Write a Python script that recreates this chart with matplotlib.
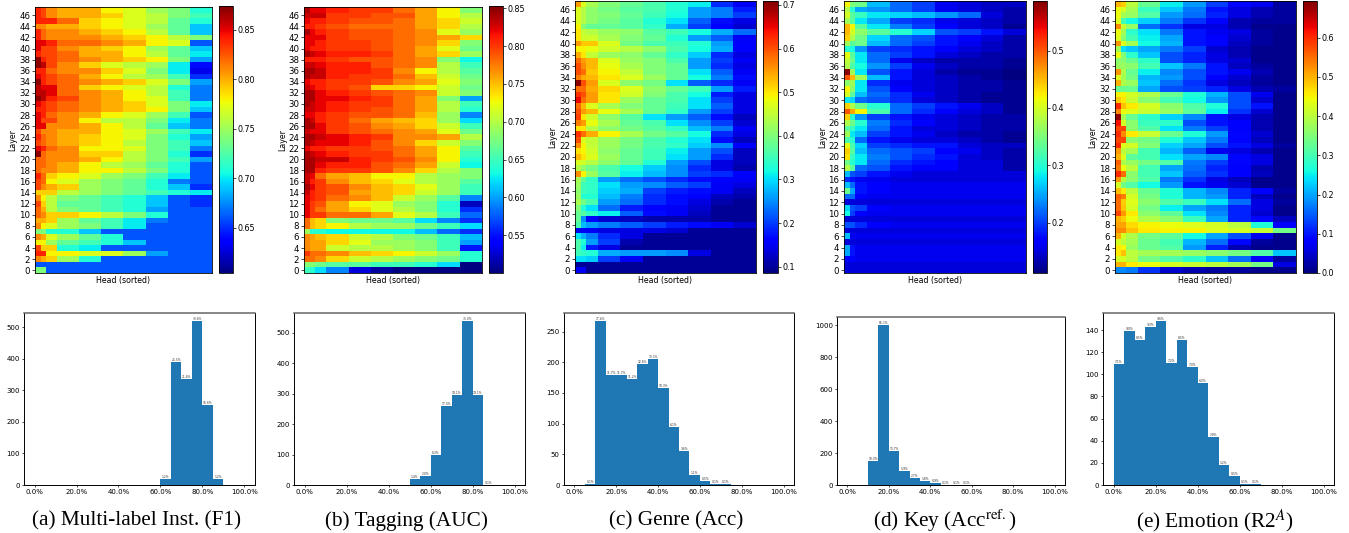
import matplotlib
matplotlib.use("Agg")
import matplotlib.pyplot as plt
import numpy as np

W = 1349
H = 533

# heads are sorted, the first ones change fastest so the blocks are narrow there
head_edges = [0, 1, 2, 4, 8, 12, 16, 20, 24, 28, 32]

# all heatmap rows go from layer 47 (top) down to layer 0, values x 100
inst_f1 = [
[84,83,81,80,80,78,77,75,74,71],[84,83,81,80,80,79,77,76,74,72],[84,84,84,82,79,78,77,76,73,71],[81,81,80,80,79,78,77,75,73,69],
[84,82,81,81,80,79,78,76,73,69],[84,82,81,81,81,80,79,78,76,74],[85,85,84,82,82,81,80,78,77,66],[85,83,83,81,80,79,78,75,73,69],
[84,83,83,82,80,80,78,76,73,70],[87,84,83,82,81,80,79,78,74,68],[87,86,83,81,79,77,76,75,70,64],[84,84,82,81,81,79,77,74,70,63],
[85,84,83,82,80,78,76,75,72,65],[87,84,83,82,81,80,79,77,74,68],[86,85,85,82,79,78,77,76,71,67],[86,86,85,82,81,80,78,76,72,67],
[87,86,84,83,81,80,78,77,72,67],[85,84,83,82,81,80,79,77,74,70],[84,84,83,82,81,80,79,78,74,69],[85,84,82,81,80,78,77,75,72,66],
[85,83,83,81,78,76,76,74,70,67],[85,85,81,81,80,78,76,73,69,67],[83,81,81,80,80,78,77,75,72,70],[84,82,81,80,79,78,77,74,71,68],
[83,82,81,80,79,78,76,74,72,69],[85,84,82,81,78,78,77,74,72,67],[87,82,81,81,79,79,76,74,71,65],[82,82,81,81,80,78,76,74,72,68],
[82,82,81,80,78,76,75,73,71,66],[82,81,81,80,78,78,76,74,71,66],[84,82,79,78,77,75,74,72,70,66],[83,82,78,77,75,74,73,71,67,66],
[83,81,80,79,75,74,73,71,69,65],[79,79,79,76,75,74,73,72,71,70],[81,78,76,74,73,72,71,69,66,65],[83,79,76,73,73,72,71,69,66,65],
[82,80,76,74,73,72,71,68,66,66],[82,81,79,79,78,76,74,71,66,66],[80,80,79,75,73,72,70,67,66,66],[81,78,77,75,74,72,70,66,66,66],
[74,74,71,71,69,66,66,66,66,66],[81,80,77,75,73,71,66,66,66,66],[78,78,75,73,72,71,69,66,66,66],[83,79,79,71,70,66,66,66,66,66],
[84,84,78,78,77,77,75,68,66,66],[81,80,79,75,71,66,66,66,66,66],[66,66,66,66,66,66,66,66,66,66],[74,74,66,66,66,66,66,66,66,66],
]
tagging_auc = [
[84,82,82,81,80,80,78,76,73,68],[83,83,83,80,80,79,79,76,73,70],[82,81,81,80,79,79,78,76,74,71],[81,81,80,79,78,78,78,76,74,70],
[84,82,81,80,79,79,78,77,72,69],[82,82,82,80,79,79,78,77,76,74],[82,82,81,80,80,79,78,77,74,68],[82,81,81,80,80,79,78,76,72,67],
[84,83,82,81,81,80,78,76,74,69],[81,81,81,80,79,79,78,77,68,63],[83,83,82,81,81,79,78,77,70,65],[84,84,83,81,81,80,77,73,70,66],
[84,83,83,81,80,80,78,75,71,67],[82,81,81,80,80,79,77,76,72,68],[83,82,81,80,79,74,74,73,71,67],[84,84,82,81,80,79,78,77,71,68],
[84,84,82,82,81,80,78,76,68,60],[84,83,82,81,80,80,78,76,70,65],[83,83,82,81,80,79,78,76,70,64],[82,82,81,80,79,79,78,75,69,59],
[84,83,81,80,78,76,75,74,69,62],[84,84,82,80,79,77,76,74,71,65],[83,82,82,80,79,78,77,76,72,67],[84,84,83,82,81,80,77,77,76,70],
[84,83,82,82,81,79,77,74,71,68],[82,81,81,80,80,79,78,76,73,66],[84,83,82,81,80,80,78,76,73,65],[84,84,83,83,81,80,79,77,73,64],
[84,84,82,81,81,79,78,76,71,63],[84,84,81,80,80,79,77,74,70,68],[83,82,78,76,75,73,73,70,69,68],[83,81,80,77,75,74,72,70,69,66],
[84,82,80,79,77,75,74,72,69,65],[83,81,80,79,76,75,74,71,69,65],[82,81,80,78,77,75,71,69,66,59],[82,80,79,76,73,72,69,68,64,52],
[82,80,78,76,74,72,70,68,64,56],[82,80,80,78,78,76,72,70,65,58],[78,75,74,68,67,67,66,62,59,56],[78,75,74,73,70,69,69,67,65,62],
[69,64,64,63,63,63,63,61,58,56],[77,76,75,74,71,70,68,67,65,61],[77,76,76,74,72,69,69,68,65,60],[77,76,76,71,70,70,69,68,65,55],
[80,78,78,77,75,74,73,71,69,64],[78,78,77,74,71,70,69,68,67,64],[68,68,67,66,66,65,65,64,62,50],[65,64,62,59,53,51,50,50,50,50],
]
genre_acc = [
[55,47,43,40,38,36,33,31,19,15],[47,44,41,39,37,36,33,26,24,18],[47,44,41,40,38,35,32,26,24,20],[47,44,41,39,37,33,30,22,17,14],
[49,40,38,38,37,34,27,20,16,13],[50,45,44,42,41,37,35,32,27,23],[50,46,46,43,40,38,33,26,22,15],[55,52,52,47,39,36,35,33,26,16],
[49,49,48,46,44,41,36,32,27,16],[54,50,45,42,41,38,34,29,19,14],[58,55,53,47,42,40,36,26,20,15],[60,56,53,48,43,40,38,26,19,14],
[60,58,52,49,45,40,38,30,22,15],[57,54,53,50,47,42,38,32,24,17],[70,60,55,47,41,39,30,22,19,15],[58,58,54,51,47,41,38,35,26,18],
[62,60,55,50,46,40,36,32,18,14],[65,58,55,50,42,38,36,30,20,14],[58,53,47,43,40,38,35,30,22,14],[60,55,53,48,43,38,34,26,20,14],
[61,50,46,41,37,30,26,22,17,12],[57,55,48,43,38,36,30,25,20,13],[50,50,44,41,39,37,34,28,24,15],[62,58,54,49,43,39,37,32,19,14],
[60,47,45,42,39,36,33,30,17,12],[56,49,45,42,39,36,34,29,25,16],[50,49,46,41,38,35,31,26,21,12],[53,50,47,42,38,35,30,26,19,12],
[47,46,44,41,38,33,26,21,14,12],[44,41,39,36,32,29,25,19,14,11],[56,49,42,37,31,28,25,20,19,16],[43,38,34,26,23,21,19,17,16,15],
[42,35,34,30,26,25,22,20,15,14],[41,35,34,29,27,20,18,17,15,12],[42,33,33,28,24,19,17,16,12,11],[43,39,36,26,23,19,17,14,11,10],
[40,33,30,23,18,16,15,13,10,10],[38,37,34,31,22,17,15,12,10,10],[38,25,16,13,12,11,11,11,10,10],[36,28,26,24,22,20,18,17,15,13],
[15,15,15,14,14,14,13,10,10,10],[30,27,24,19,14,10,10,10,10,10],[36,33,26,20,11,10,10,10,10,10],[36,31,18,14,10,10,10,10,10,10],
[35,34,33,27,26,26,25,14,10,10],[30,30,29,20,15,10,10,10,10,10],[10,10,10,10,10,10,10,10,10,10],[15,15,10,10,10,10,10,10,10,10],
]
key_acc = [
[42,35,34,26,22,20,16,15,14,14],[38,30,25,24,22,20,16,15,14,13],[40,33,31,28,27,26,24,22,15,13],[37,33,28,25,20,19,16,15,14,13],
[45,42,33,28,23,20,17,15,14,12],[45,40,36,33,30,27,21,20,18,15],[44,38,34,27,22,21,18,17,15,13],[37,33,34,26,22,20,18,16,14,13],
[30,29,24,20,19,18,17,15,14,13],[41,33,28,22,20,18,15,14,13,13],[39,34,28,22,16,14,13,13,13,12],[38,32,29,24,20,16,14,13,13,12],
[58,37,28,21,18,15,13,12,12,11],[50,45,37,26,18,15,14,13,12,11],[36,37,28,19,16,15,14,13,13,12],[42,36,28,21,17,15,14,13,13,12],
[40,33,26,22,19,16,14,13,12,12],[28,27,22,21,19,15,14,13,12,12],[44,38,34,30,22,20,18,16,14,12],[50,46,42,32,22,19,17,15,14,12],
[44,30,24,20,18,16,15,14,13,13],[38,34,30,23,19,17,15,14,13,13],[33,31,28,22,18,15,15,14,13,13],[37,28,26,20,18,16,14,13,13,12],
[32,30,22,18,16,15,15,14,13,12],[41,32,27,20,19,18,18,15,14,14],[44,33,26,22,21,20,17,16,14,13],[43,31,28,23,21,19,18,15,14,13],
[34,30,28,22,19,18,17,15,15,13],[38,33,22,21,18,17,17,15,15,13],[26,21,20,18,16,15,15,15,15,15],[19,18,16,16,15,15,15,15,15,15],
[26,22,18,17,16,16,16,16,16,16],[34,25,18,17,16,16,16,16,16,16],[22,22,17,16,16,16,16,16,16,16],[15,15,15,15,15,15,15,15,15,15],
[27,21,20,17,16,16,16,16,16,16],[29,20,17,16,16,16,16,16,16,16],[15,15,15,15,15,15,15,15,15,15],[21,21,19,17,16,16,16,16,16,16],
[15,15,15,15,15,15,15,15,15,15],[26,16,16,16,16,16,16,16,16,16],[15,15,15,15,15,15,15,15,15,15],[25,18,16,16,16,16,16,16,16,16],
[25,18,16,16,16,16,16,16,16,16],[17,17,16,16,16,16,16,16,16,16],[15,15,15,15,15,15,15,15,15,15],[15,15,15,15,15,15,15,15,15,15],
]
emotion_r2 = [
[50,48,40,33,25,19,13,9,7,2],[44,42,38,29,22,17,10,6,3,2],[44,38,37,31,19,16,11,6,3,2],[43,30,26,23,17,12,8,3,2,2],
[53,41,37,16,12,6,6,3,1,1],[44,38,28,24,17,10,7,6,2,1],[43,36,30,25,20,10,8,5,2,1],[52,43,38,26,21,10,9,4,2,1],
[38,24,22,20,17,13,5,3,1,1],[44,35,28,22,14,11,6,3,1,1],[36,36,33,28,14,11,6,5,1,1],[37,37,36,30,22,17,10,4,2,1],
[52,39,33,25,18,14,10,7,3,1],[43,38,34,21,19,14,8,5,2,1],[50,39,37,22,16,12,6,4,2,1],[33,33,33,20,14,13,11,6,3,2],
[45,45,42,39,33,27,21,14,7,1],[48,46,41,36,30,26,19,14,5,1],[60,49,46,42,36,31,27,14,10,1],[53,44,43,41,37,32,25,12,5,1],
[68,38,33,28,23,18,10,6,3,1],[62,42,36,29,28,14,10,8,3,1],[58,58,36,31,24,17,13,8,3,1],[60,53,46,41,33,27,19,9,5,1],
[58,58,36,34,27,22,17,9,4,1],[60,43,42,35,23,20,14,10,6,2],[52,40,38,30,21,15,7,6,3,1],[50,43,32,30,24,20,18,9,6,1],
[56,39,37,34,31,17,13,9,6,1],[54,44,40,30,20,16,11,8,3,1],[60,55,36,30,22,15,12,8,4,1],[52,40,36,31,17,12,6,4,1,1],
[42,34,31,26,19,10,7,5,1,1],[49,46,40,33,27,21,18,11,8,2],[56,54,42,34,27,21,19,11,4,1],[55,48,43,36,31,29,24,16,6,2],
[55,49,42,34,25,20,17,11,6,1],[58,52,46,36,32,24,18,11,5,1],[50,48,44,39,36,29,20,11,9,4],[51,51,47,45,44,43,42,40,27,8],
[53,53,49,46,45,45,43,42,41,34],[50,42,39,34,32,26,20,14,7,1],[42,40,38,33,30,21,16,9,2,1],[46,45,37,33,31,19,11,3,1,1],
[46,49,40,38,38,37,36,34,31,22],[42,42,40,34,31,28,22,16,8,2],[50,50,46,44,42,41,40,38,34,6],[18,18,17,12,5,3,2,2,1,1],
]
heat_data = [inst_f1, tagging_auc, genre_acc, key_acc, emotion_r2]

color_limits = [(0.604, 0.874), (0.50, 0.853), (0.0855, 0.709), (0.112, 0.5865), (0.0, 0.6935)]
color_ticks = [
    [0.65, 0.70, 0.75, 0.80, 0.85],
    [0.55, 0.60, 0.65, 0.70, 0.75, 0.80, 0.85],
    [0.1, 0.2, 0.3, 0.4, 0.5, 0.6, 0.7],
    [0.2, 0.3, 0.4, 0.5],
    [0.0, 0.1, 0.2, 0.3, 0.4, 0.5, 0.6],
]

# histogram bars are 5% wide, first_bin is where the first bar starts
first_bin = [60, 50, 5, 10, 0]
inst_counts = [18, 391, 335, 519, 255, 18]
tagging_counts = [21, 30, 97, 261, 294, 538, 294, 1]
genre_counts = [2, 267, 179, 179, 172, 197, 205, 158, 94, 56, 17, 7, 1, 1]
key_counts = [153, 1000, 210, 90, 41, 27, 14, 1, 1, 1]
emotion_counts = [109, 139, 131, 143, 148, 110, 131, 107, 92, 43, 18, 8, 1, 1]
hist_counts = [inst_counts, tagging_counts, genre_counts, key_counts, emotion_counts]
total_heads = 1536  # 48 layers x 32 heads, some emotion heads fall below 0 and are not shown

captions = [
    "(a) Multi-label Inst. (F1)",
    "(b) Tagging (AUC)",
    "(c) Genre (Acc)",
    "(d) Key (Acc$^{\\mathrm{ref.}}$)",
    "(e) Emotion (R2$^{A}$)",
]

# pixel boxes: left, right, top, bottom
heat_boxes = [(35, 212, 7, 273), (304, 482, 7, 273), (575, 756, 1, 273), (844, 1026, 1, 273), (1115, 1296, 1, 273)]
cbar_boxes = [(219, 233, 6, 273), (489, 503, 6, 273), (763, 778, 1, 273), (1033, 1047, 1, 273), (1303, 1317, 1, 273)]
hist_boxes = [(24, 255, 313, 485), (294, 525, 313, 485), (564, 794, 313, 485), (837, 1065, 317, 485), (1103, 1334, 313, 485)]
caption_x = [136, 406, 676, 945, 1215]


def add_axes_px(fig, box):
    left, right, top, bottom = box
    return fig.add_axes([left / W, 1 - bottom / H, (right - left) / W, (bottom - top) / H])


plt.rcParams["mathtext.fontset"] = "stix"
fig = plt.figure(figsize=(W / 100, H / 100), dpi=100)

for i in range(5):
    # heatmap
    ax = add_axes_px(fig, heat_boxes[i])
    values = np.array(heat_data[i])[::-1] / 100
    row_edges = np.arange(49) - 0.5
    mesh = ax.pcolormesh(head_edges, row_edges, values, cmap="jet",
                         vmin=color_limits[i][0], vmax=color_limits[i][1])
    ax.set_xticks([])
    ax.set_yticks(range(0, 48, 2))
    ax.tick_params(axis="y", labelsize=6.2, length=2, width=0.5, pad=1.5)
    ax.set_xlabel("Head (sorted)", fontsize=5.7, labelpad=2)
    ax.set_ylabel("Layer", fontsize=5.7, labelpad=1)
    for s in ax.spines.values():
        s.set_linewidth(0.6)

    cax = add_axes_px(fig, cbar_boxes[i])
    cbar = fig.colorbar(mesh, cax=cax, ticks=color_ticks[i])
    cbar.ax.tick_params(labelsize=5.8, length=2, width=0.5, pad=1.5)
    cbar.outline.set_linewidth(0.6)

    # histogram
    hax = add_axes_px(fig, hist_boxes[i])
    counts = hist_counts[i]
    lefts = [first_bin[i] + 5 * n for n in range(len(counts))]
    bars = hax.bar(lefts, counts, width=5, align="edge", color="#1f77b4")
    hax.set_xlim(-5, 105)
    hax.set_ylim(0, max(counts) * 1.05)
    hax.set_xticks([0, 20, 40, 60, 80, 100])
    hax.set_xticklabels(["0.0%", "20.0%", "40.0%", "60.0%", "80.0%", "100.0%"])
    hax.tick_params(labelsize=5, length=1.5, width=0.5, pad=1.5)
    for s in hax.spines.values():
        s.set_linewidth(0.7)
    hax.spines["top"].set_color("#666666")
    hax.spines["top"].set_linewidth(1.1)
    for bar, c in zip(bars, counts):
        hax.text(bar.get_x() + 2.5, c, f"{100 * c / total_heads:.1f}%", ha="center", va="bottom",
                 fontsize=2.2, color="#333333")

    fig.text(caption_x[i] / W, 1 - 521 / H, captions[i], ha="center", va="center",
             fontsize=15.3, family="Liberation Serif")

fig.savefig("out.png", dpi=100)
